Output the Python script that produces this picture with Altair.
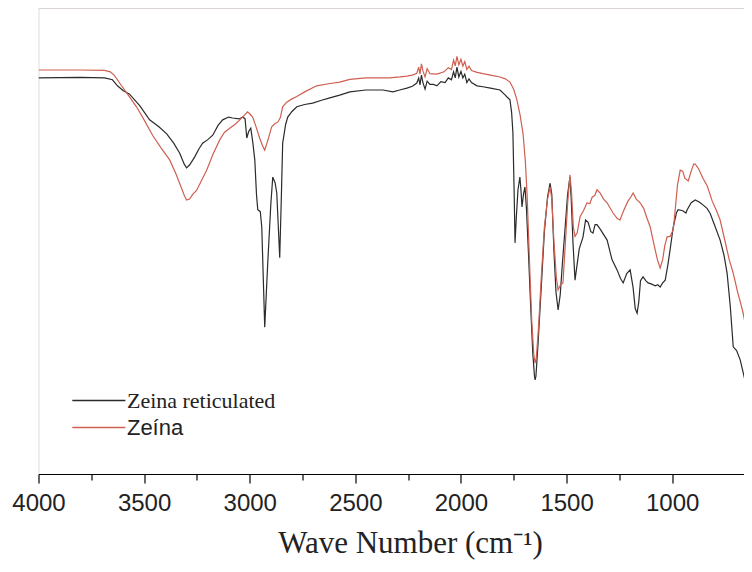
import altair as alt
import pandas as pd

# ---- data (wave number, relative transmittance) ----
series_names = ["Zeina reticulated", "Zeína"]
series_colors = ["#2b2b2b", "#cf5f50"]

wn_black = [4000, 3800, 3687, 3650, 3626, 3600, 3569, 3520, 3474, 3430, 3393, 3360, 3332, 3310, 3299,
            3285, 3261, 3240, 3223, 3200, 3175, 3150, 3128, 3100, 3081, 3050, 3033, 3022, 3014, 3005,
            2995, 2985, 2976, 2968, 2962, 2950, 2943, 2929, 2915, 2900, 2891, 2880, 2872, 2858, 2850,
            2844, 2830, 2820, 2800, 2777, 2740, 2702, 2660, 2621, 2574, 2526, 2450, 2370, 2322, 2290,
            2256, 2230, 2209, 2200, 2194, 2187, 2180, 2170, 2160, 2147, 2130, 2114, 2095, 2075, 2060,
            2045, 2035, 2027, 2019, 2010, 2000, 1991, 1982, 1972, 1962, 1950, 1924, 1896, 1860, 1815,
            1790, 1782, 1768, 1760, 1754, 1748, 1744, 1738, 1730, 1721, 1716, 1711, 1704, 1697, 1690,
            1680, 1670, 1660, 1652, 1649, 1645, 1635, 1620, 1605, 1590, 1578, 1570, 1560, 1550, 1540,
            1530, 1520, 1505, 1495, 1484, 1478, 1470, 1460, 1450, 1440, 1422, 1410, 1398, 1385, 1375,
            1365, 1356, 1340, 1308, 1285, 1261, 1245, 1232, 1215, 1199, 1185, 1175, 1166, 1158, 1150,
            1138, 1125, 1114, 1100, 1080, 1068, 1057, 1045, 1033, 1020, 1010, 995, 980, 972, 950,
            935, 929, 910, 891, 870, 853, 835, 820, 800, 773, 755, 740, 725, 711, 695,
            678, 660, 645, 630, 621]
t_black = [85.0, 85.1, 85.0, 84.6, 83.3, 82.3, 81.5, 79.0, 76.0, 74.5, 73.0, 71.0, 68.9, 66.5, 65.7,
           66.3, 68.0, 69.8, 71.0, 71.7, 72.7, 74.8, 76.0, 76.6, 76.4, 76.2, 76.6, 76.2, 72.1, 73.5,
           74.2, 71.0, 67.4, 60.0, 56.7, 56.3, 53.0, 31.5, 45.0, 58.0, 63.7, 62.5, 60.3, 46.4, 60.0,
           71.0, 75.0, 76.6, 77.8, 78.8, 79.3, 79.6, 80.2, 80.7, 81.3, 82.0, 82.4, 82.4, 82.0, 82.4,
           82.8, 83.2, 83.9, 85.0, 83.5, 85.6, 84.0, 82.6, 84.3, 83.6, 83.6, 83.3, 84.2, 84.0, 85.0,
           84.6, 86.3, 85.0, 87.3, 85.2, 86.4, 85.0, 85.8, 84.0, 84.8, 84.0, 83.3, 83.1, 82.8, 82.4,
           81.3, 80.9, 80.3, 77.5, 73.2, 60.0, 49.6, 55.0, 61.0, 63.7, 61.0, 57.3, 60.0, 61.6, 57.0,
           47.0, 36.0, 26.0, 21.0, 20.2, 21.0, 28.0, 40.0, 52.0, 59.5, 62.4, 60.0, 48.0, 39.0, 35.2,
           38.5, 45.0, 54.0, 60.0, 63.7, 59.0, 50.0, 41.6, 45.0, 48.3, 50.9, 54.5, 54.0, 52.0, 51.7,
           53.5, 53.5, 52.5, 50.2, 46.0, 43.8, 42.0, 41.0, 43.0, 43.8, 40.0, 35.5, 34.5, 37.0, 41.5,
           42.3, 41.5, 41.0, 40.8, 40.4, 40.6, 40.1, 41.0, 41.6, 45.0, 48.1, 53.0, 56.0, 56.7, 56.5,
           56.0, 56.7, 58.2, 58.8, 58.3, 57.7, 57.0, 55.9, 53.5, 50.2, 47.0, 43.1, 36.0, 27.3, 26.5,
           24.5, 21.0, 18.0, 14.5, 12.2]

wn_red = [4000, 3800, 3687, 3660, 3640, 3602, 3570, 3536, 3500, 3460, 3420, 3379, 3350, 3332, 3310,
          3299, 3285, 3270, 3251, 3230, 3204, 3175, 3142, 3120, 3095, 3070, 3047, 3025, 3010, 2998,
          2986, 2970, 2953, 2940, 2929, 2915, 2896, 2880, 2867, 2855, 2844, 2825, 2800, 2777, 2740,
          2683, 2620, 2574, 2526, 2450, 2337, 2290, 2256, 2230, 2209, 2200, 2194, 2187, 2180, 2170,
          2160, 2147, 2114, 2080, 2060, 2045, 2035, 2027, 2019, 2010, 2000, 1991, 1982, 1972, 1962,
          1950, 1924, 1896, 1860, 1815, 1790, 1768, 1750, 1735, 1720, 1706, 1695, 1687, 1675, 1665,
          1655, 1649, 1643, 1632, 1620, 1605, 1590, 1578, 1570, 1560, 1548, 1540, 1530, 1517, 1505,
          1495, 1484, 1476, 1468, 1460, 1450, 1436, 1420, 1403, 1390, 1379, 1366, 1356, 1340, 1325,
          1308, 1280, 1260, 1247, 1230, 1210, 1195, 1185, 1170, 1152, 1135, 1120, 1104, 1085, 1070,
          1057, 1045, 1035, 1024, 1010, 995, 985, 975, 962, 950, 940, 924, 910, 898, 891,
          875, 855, 834, 810, 790, 773, 750, 730, 711, 690, 675, 664, 645, 621]
t_red = [86.7, 86.7, 86.6, 86.3, 85.5, 83.0, 81.0, 78.8, 76.0, 72.7, 70.0, 67.4, 64.5, 62.4, 59.8,
         58.8, 59.0, 60.0, 60.9, 62.8, 65.2, 68.5, 71.7, 73.3, 74.2, 75.0, 76.0, 77.0, 77.7, 77.2,
         76.6, 74.5, 72.1, 70.5, 69.5, 71.5, 74.5, 75.2, 75.5, 76.5, 78.8, 79.8, 80.5, 81.0, 82.0,
         83.3, 83.8, 84.1, 84.7, 85.0, 85.0, 85.2, 85.4, 85.6, 86.0, 87.3, 85.8, 88.0, 86.5, 85.2,
         87.0, 85.9, 85.8, 86.3, 87.2, 86.8, 88.8, 87.6, 89.6, 87.8, 89.0, 87.5, 88.5, 86.8, 87.5,
         86.6, 86.2, 85.9, 85.6, 85.2, 84.8, 84.1, 82.5, 80.3, 77.0, 73.0, 67.0, 60.0, 45.0, 33.0,
         25.5, 23.8, 25.0, 32.0, 42.0, 53.0, 59.0, 61.6, 59.0, 50.0, 42.0, 39.5, 40.5, 41.0, 50.0,
         58.0, 64.2, 60.0, 53.0, 51.0, 51.7, 55.2, 56.5, 58.2, 58.0, 59.4, 59.8, 61.0, 60.2, 59.0,
         58.2, 56.0, 54.8, 54.5, 56.5, 58.5, 59.5, 60.3, 59.0, 58.2, 57.0, 55.0, 53.0, 49.0, 46.0,
         44.2, 46.0, 49.0, 50.9, 51.0, 52.4, 57.0, 62.0, 65.2, 65.0, 63.5, 62.9, 65.0, 66.5, 66.5,
         65.5, 63.5, 61.8, 58.5, 56.5, 54.5, 50.0, 46.0, 43.1, 39.0, 36.5, 34.5, 30.0, 26.0]

x_major = [4000, 3500, 3000, 2500, 2000, 1500, 1000]
x_minor = [3750, 3250, 2750, 2250, 1750, 1250]
x_domain = [660, 4000]
y_domain = [0, 100]

df_black = pd.DataFrame({"wn": wn_black, "t": t_black, "series": series_names[0]})
df_red = pd.DataFrame({"wn": wn_red, "t": t_red, "series": series_names[1]})

W, H = 705.5, 466

xscale = alt.Scale(domain=x_domain, reverse=True, nice=False, zero=False)
yscale = alt.Scale(domain=y_domain, nice=False, zero=False)

legend = alt.Legend(
    title=None, orient="none", legendX=44.85, legendY=377,
    symbolType="M-1.83,0H1.83", symbolSize=841, symbolStrokeWidth=1.3,
    symbolFillColor="transparent",
    labelFontSize=22, labelColor="#222222",
    labelFont=alt.ExprRef("datum.label == 'Zeína' ? 'Liberation Sans' : 'Liberation Serif'"),
    labelOffset=12.6, rowPadding=0, padding=0,
)
color = alt.Color("series:N", scale=alt.Scale(domain=series_names, range=series_colors), legend=legend)

x_major_axis = alt.Axis(
    values=x_major, tickSize=9, tickColor="black", tickWidth=1.2, domainColor="black", domainWidth=1.2,
    labelFont="Liberation Sans", labelFontSize=24, labelColor="#222222", labelPadding=8,
    labelFlush=False, labelOverlap=False, grid=False, format="d",
    title="Wave Number (cm⁻¹)", titleFont="Liberation Serif", titleFontSize=31,
    titleFontWeight="normal", titleColor="#222222", titleX=371.5, titleY=78,
    titleBaseline="alphabetic", titleAlign="center", orient="bottom",
)
x_minor_axis = alt.Axis(
    values=x_minor, tickSize=6, tickColor="black", tickWidth=1.2, domain=False,
    labels=False, title=None, grid=False, orient="bottom",
)
y_axis = alt.Axis(labels=False, ticks=False, title=None, grid=False, domainColor="black", domainWidth=1.2)

black_line = alt.Chart(df_black).mark_line(strokeWidth=1.2, interpolate="linear", clip=True).encode(
    x=alt.X("wn:Q", scale=xscale, axis=x_major_axis),
    y=alt.Y("t:Q", scale=yscale, axis=y_axis),
    color=color,
)
red_line = alt.Chart(df_red).mark_line(strokeWidth=1.2, interpolate="linear", clip=True).encode(
    x=alt.X("wn:Q", scale=xscale, axis=x_minor_axis),
    y=alt.Y("t:Q", scale=yscale, axis=None),
    color=color,
)
top_frame = alt.Chart(pd.DataFrame({"a": [0]})).mark_rule(color="#d9c9c5", strokeWidth=1.2).encode(
    x=alt.value(0), x2=alt.value(W), y=alt.value(0)
)

chart = alt.layer(black_line, red_line, top_frame).resolve_axis(x="independent").properties(
    width=W, height=H,
    autosize=alt.AutoSizeParams(type="none"),
    padding={"left": 30.5, "top": 0, "right": 0, "bottom": 86},
).configure_view(stroke=None).configure(background="white")

chart.save("out.html", embed_options={"renderer": "svg", "actions": False})
